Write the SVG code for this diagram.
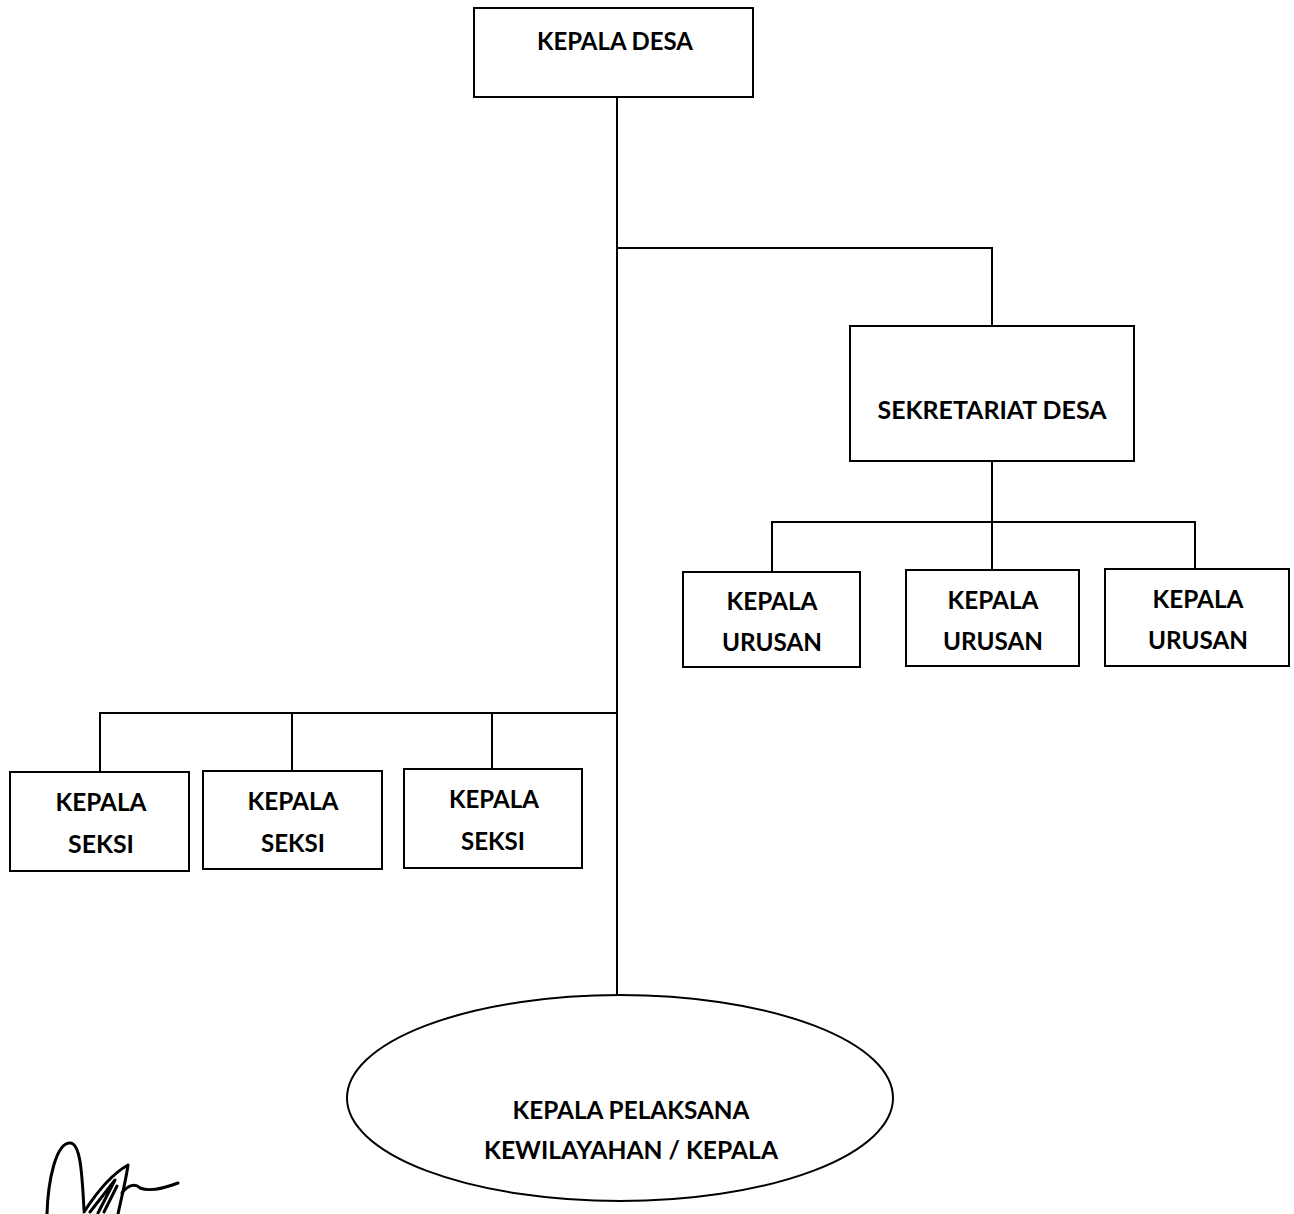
<svg xmlns="http://www.w3.org/2000/svg" width="1294" height="1214" viewBox="0 0 1294 1214">
<style>
.box{fill:#fff;stroke:#000;stroke-width:2}
.ln{fill:none;stroke:#000;stroke-width:2}
.sig{fill:none;stroke:#000;stroke-width:3;stroke-linecap:round;stroke-linejoin:round}
text{font-family:Lato,"Open Sans","Liberation Sans",sans-serif;font-weight:bold;font-size:25px;fill:#000;text-anchor:middle}
</style>
<rect width="1294" height="1214" fill="#fff"/>
<g id="connectors">
<path class="ln" d="M617 97V995"/>
<path class="ln" d="M617 248H992V326"/>
<path class="ln" d="M992 461V570"/>
<path class="ln" d="M772 572V522H1195V569"/>
<path class="ln" d="M617 713H100V772"/>
<path class="ln" d="M292 713V771"/>
<path class="ln" d="M492 713V769"/>
</g>
<g id="kepala-desa"><rect class="box" x="474" y="8" width="279" height="89"/><text x="615" y="50" textLength="156" lengthAdjust="spacingAndGlyphs">KEPALA DESA</text></g>
<g id="sekretariat-desa"><rect class="box" x="850" y="326" width="284" height="135"/><text x="992" y="419" textLength="229" lengthAdjust="spacingAndGlyphs">SEKRETARIAT DESA</text></g>
<g id="urusan-1"><rect class="box" x="683" y="572" width="177" height="95"/><text x="772" y="610" textLength="91" lengthAdjust="spacingAndGlyphs">KEPALA</text><text x="772" y="651" textLength="100" lengthAdjust="spacingAndGlyphs">URUSAN</text></g>
<g id="urusan-2"><rect class="box" x="906" y="570" width="173" height="96"/><text x="993" y="609" textLength="91" lengthAdjust="spacingAndGlyphs">KEPALA</text><text x="993" y="650" textLength="100" lengthAdjust="spacingAndGlyphs">URUSAN</text></g>
<g id="urusan-3"><rect class="box" x="1105" y="569" width="184" height="97"/><text x="1198" y="608" textLength="91" lengthAdjust="spacingAndGlyphs">KEPALA</text><text x="1198" y="649" textLength="100" lengthAdjust="spacingAndGlyphs">URUSAN</text></g>
<g id="seksi-1"><rect class="box" x="10" y="772" width="179" height="99"/><text x="101" y="811" textLength="91" lengthAdjust="spacingAndGlyphs">KEPALA</text><text x="101" y="853" textLength="66" lengthAdjust="spacingAndGlyphs">SEKSI</text></g>
<g id="seksi-2"><rect class="box" x="203" y="771" width="179" height="98"/><text x="293" y="810" textLength="91" lengthAdjust="spacingAndGlyphs">KEPALA</text><text x="293" y="852" textLength="64" lengthAdjust="spacingAndGlyphs">SEKSI</text></g>
<g id="seksi-3"><rect class="box" x="404" y="769" width="178" height="99"/><text x="494" y="808" textLength="90" lengthAdjust="spacingAndGlyphs">KEPALA</text><text x="493" y="850" textLength="64" lengthAdjust="spacingAndGlyphs">SEKSI</text></g>
<g id="kepala-pelaksana"><ellipse class="box" cx="620" cy="1098" rx="273" ry="103"/><text x="631" y="1119" textLength="237" lengthAdjust="spacingAndGlyphs">KEPALA PELAKSANA</text><text x="631" y="1159" textLength="294" lengthAdjust="spacingAndGlyphs">KEWILAYAHAN / KEPALA</text></g>
<g id="signature">
<path class="sig" d="M47 1214C48 1180 56 1143 70 1143C80 1143 82 1170 84 1210"/>
<path class="sig" d="M84 1212C95 1195 110 1175 128 1165C126 1180 122 1195 118 1214"/>
<path class="sig" d="M90 1212L115 1180L98 1213M104 1212L117 1186"/>
<path class="sig" d="M122 1193C128 1185 135 1183 140 1188C150 1192 165 1188 178 1183"/>
</g>
</svg>
